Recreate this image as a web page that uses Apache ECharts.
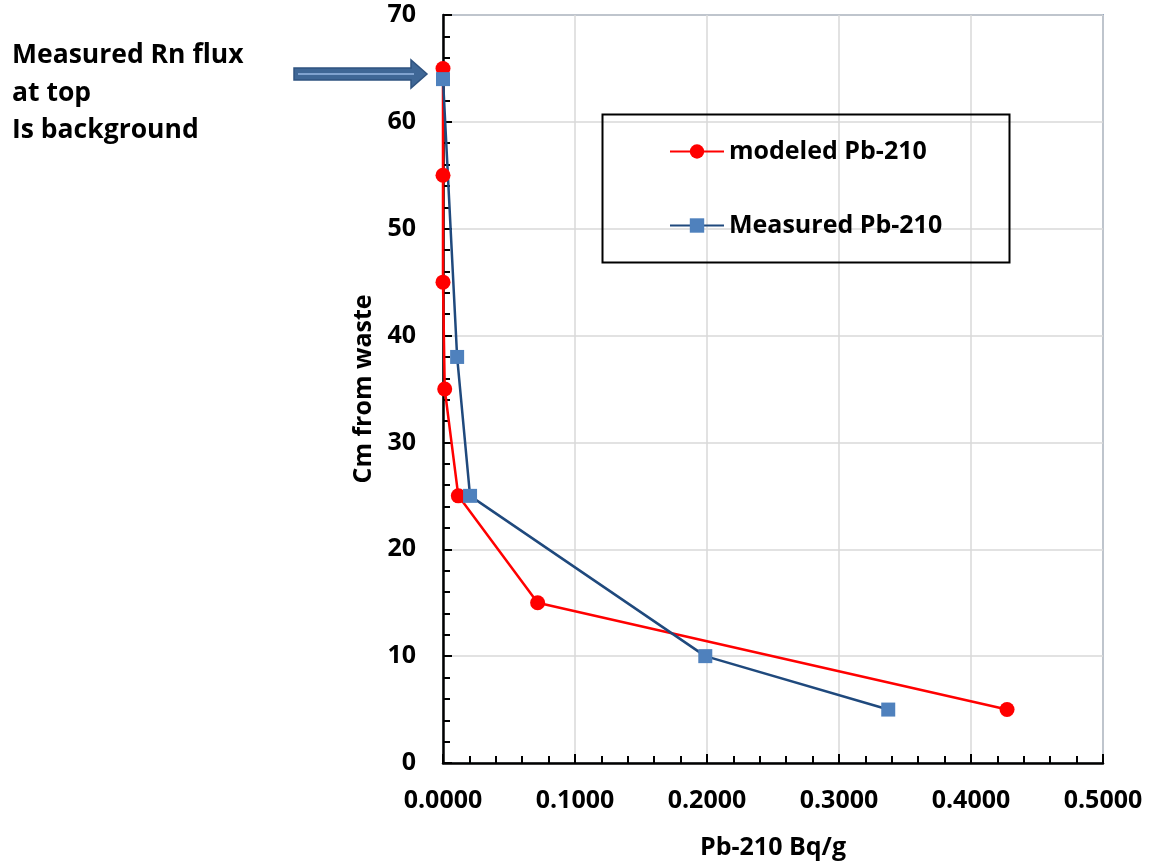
<!DOCTYPE html>
<html>
<head>
<meta charset="utf-8">
<script src="https://cdn.jsdelivr.net/npm/echarts@6/dist/echarts.min.js"></script>
<style>
html,body{margin:0;padding:0;background:#fff;}
#chart{width:1149px;height:865px;}
</style>
</head>
<body>
<div id="chart"></div>
<script>
// ---- data ----
const modeledName = 'modeled Pb-210';
const modeledX = [0.0000, 0.0000, 0.0000, 0.0013, 0.0116, 0.0717, 0.4273];
const modeledY = [65, 55, 45, 35, 25, 15, 5];
const measuredName = 'Measured Pb-210';
const measuredX = [0.0000, 0.0107, 0.0205, 0.1987, 0.3373];
const measuredY = [64, 38, 25, 10, 5];
const xAxisTitle = 'Pb-210 Bq/g';
const yAxisTitle = 'Cm from waste';
const annotationLines = ['Measured Rn flux', 'at top', 'Is background'];

const FONT = '"Open Sans"';
const FS = 25;
const chart = echarts.init(document.getElementById('chart'), null, {renderer: 'canvas'});

const pairs = (xs, ys) => xs.map((x, i) => [x, ys[i]]);

const axisCommon = {
  type: 'value',
  axisLine: {show: true, lineStyle: {color: '#000', width: 2.5}},
  axisTick: {show: true, inside: true, length: 9, lineStyle: {color: '#000', width: 2}},
  minorTick: {show: true, splitNumber: 5, length: 7, lineStyle: {color: '#000', width: 2}},
  splitLine: {show: true, lineStyle: {color: '#d9d9d9', width: 1.5}},
  nameLocation: 'middle',
  nameTextStyle: {fontFamily: FONT, fontWeight: 'bold', fontSize: FS, color: '#000'},
};

chart.setOption({
  animation: false,
  backgroundColor: '#fff',
  grid: {
    left: 443, top: 15, right: 46, bottom: 102,
    show: true, borderColor: '#4a6792', borderWidth: 1.5, backgroundColor: 'transparent'
  },
  xAxis: Object.assign({}, axisCommon, {
    min: 0, max: 0.5, interval: 0.1,
    name: xAxisTitle, nameGap: 72,
    axisLabel: {margin: 25, fontFamily: FONT, fontWeight: 'bold', fontSize: FS, color: '#000',
      formatter: v => v.toFixed(4)}
  }),
  yAxis: Object.assign({}, axisCommon, {
    min: 0, max: 70, interval: 10,
    name: yAxisTitle, nameGap: 59,
    axisLabel: {margin: 27, fontFamily: FONT, fontWeight: 'bold', fontSize: FS, color: '#000'}
  }),
  legend: {
    orient: 'vertical',
    left: 669, top: 139,
    padding: 0,
    itemWidth: 54, itemHeight: 18, itemGap: 49,
    textStyle: {fontFamily: FONT, fontWeight: 'bold', fontSize: FS, color: '#000'},
    data: [modeledName, measuredName]
  },
  series: [
    {
      name: modeledName, type: 'line', clip: false,
      data: pairs(modeledX, modeledY),
      symbol: 'circle', symbolSize: 15,
      lineStyle: {color: '#ff0000', width: 2.5},
      itemStyle: {color: '#ff0000'}
    },
    {
      name: measuredName, type: 'line', clip: false,
      data: pairs(measuredX, measuredY),
      symbol: 'rect', symbolSize: 14,
      lineStyle: {color: '#1f497d', width: 2.5},
      itemStyle: {color: '#4f81bd'}
    }
  ],
  graphic: [
    {
      type: 'rect', z: 5, silent: true,
      shape: {x: 602.5, y: 114.5, width: 407, height: 148},
      style: {fill: 'none', stroke: '#000', lineWidth: 2}
    },
    {
      type: 'text', left: 12, top: 37, silent: true,
      style: {
        text: annotationLines.join('\n'),
        fontFamily: FONT, fontWeight: 'bold', fontSize: 26.5, lineHeight: 37.5,
        fill: '#000'
      }
    },
    {
      type: 'polygon', silent: true, z: 6,
      shape: {points: [[294, 68], [411, 68], [411, 60], [427, 74], [411, 88], [411, 80], [294, 80]]},
      style: {fill: '#3f6796', stroke: '#2f5380', lineWidth: 1.5}
    },
    {
      type: 'line', silent: true, z: 7,
      shape: {x1: 298, y1: 74, x2: 414, y2: 74},
      style: {stroke: '#7fa2cf', lineWidth: 2}
    }
  ]
});
</script>
</body>
</html>
